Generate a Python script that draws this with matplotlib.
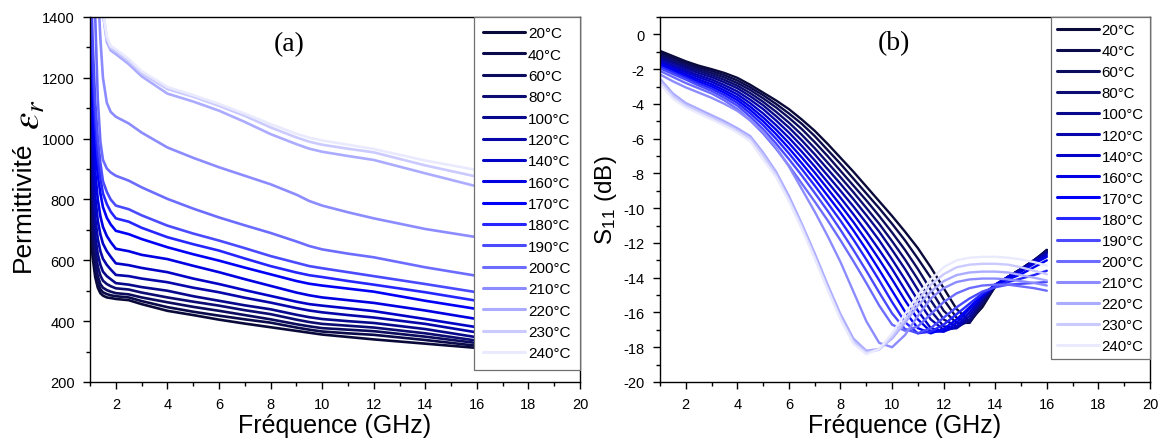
import matplotlib
matplotlib.use("Agg")
import matplotlib.pyplot as plt
from matplotlib.ticker import MultipleLocator

plt.rcParams['font.family'] = ['Liberation Sans', 'DejaVu Sans']
plt.rcParams['axes.unicode_minus'] = False
plt.rcParams['mathtext.fontset'] = 'stix'

temps = ['20°C', '40°C', '60°C', '80°C', '100°C', '120°C', '140°C', '160°C', '170°C',
         '180°C', '190°C', '200°C', '210°C', '220°C', '230°C', '240°C']
colors = ['#0a0a3a', '#0b0b4c', '#0c0c5e', '#0c0c72', '#08088c', '#0606aa', '#0303c8', '#0000e2',
          '#0000f8', '#2626ff', '#4a4aff', '#6c6cff', '#8c8cff', '#ababff', '#cacaff', '#eaeaff']

# ---- panel (a): permittivity ----
freq_a = [1.0, 1.1, 1.2, 1.3, 1.4, 1.5, 1.65, 1.8, 2.0, 2.5, 3.0, 4, 5, 6, 7, 8, 9, 9.5, 10, 11, 12, 14, 16]
eps_20 = [720, 610, 545, 510, 492, 484, 478, 476, 473, 469, 456, 434, 420, 405, 392, 380, 368, 362, 356, 348, 340, 326, 312]
eps_40 = [760, 640, 565, 525, 505, 495, 489, 485, 482, 478, 466, 446, 431, 418, 406, 395, 379, 372, 366, 360, 355, 338, 319]
eps_60 = [820, 680, 595, 548, 522, 510, 502, 497, 492, 488, 478, 462, 447, 434, 420, 406, 390, 383, 377, 372, 367, 349, 328]
eps_80 = [880, 730, 635, 580, 550, 533, 522, 515, 508, 504, 494, 478, 464, 451, 436, 423, 405, 397, 391, 385, 379, 360, 336]
eps_100 = [960, 790, 680, 620, 585, 563, 548, 538, 525, 520, 512, 500, 482, 467, 452, 439, 421, 413, 407, 400, 394, 374, 347]
eps_120 = [1060, 860, 740, 670, 630, 605, 585, 570, 552, 548, 540, 528, 510, 495, 477, 461, 443, 435, 429, 420, 412, 391, 363]
eps_140 = [1170, 950, 810, 730, 685, 655, 630, 612, 590, 584, 575, 561, 540, 522, 502, 483, 464, 456, 451, 442, 433, 407, 380]
eps_160 = [1300, 1050, 890, 800, 745, 710, 680, 660, 638, 630, 618, 604, 582, 561, 538, 516, 494, 485, 478, 469, 460, 435, 407]
eps_170 = [1420, 1150, 980, 880, 820, 775, 740, 718, 697, 686, 670, 643, 620, 599, 576, 554, 532, 523, 517, 507, 497, 467, 440]
eps_180 = [1520, 1230, 1050, 940, 870, 820, 785, 760, 738, 727, 707, 676, 653, 632, 606, 581, 560, 551, 545, 532, 520, 495, 467]
eps_190 = [1620, 1320, 1120, 1000, 920, 860, 825, 800, 780, 768, 748, 714, 688, 665, 640, 614, 592, 581, 574, 561, 548, 522, 495]
eps_200 = [1900, 1600, 1400, 1130, 990, 930, 902, 889, 878, 862, 840, 802, 770, 741, 715, 690, 662, 647, 636, 622, 610, 577, 549]
eps_210 = [2400, 2100, 1800, 1500, 1330, 1200, 1118, 1088, 1072, 1050, 1020, 971, 937, 906, 878, 850, 816, 795, 780, 758, 738, 703, 676]
eps_220 = [2800, 2500, 2200, 1900, 1650, 1410, 1318, 1290, 1278, 1245, 1205, 1148, 1122, 1092, 1055, 1015, 982, 967, 957, 943, 930, 886, 843]
eps_230 = [2800, 2500, 2200, 1900, 1650, 1415, 1328, 1298, 1288, 1255, 1215, 1163, 1138, 1108, 1075, 1037, 1004, 990, 980, 967, 955, 912, 875]
eps_240 = [2800, 2500, 2200, 1900, 1660, 1420, 1335, 1305, 1294, 1262, 1222, 1170, 1143, 1114, 1082, 1048, 1016, 1003, 994, 980, 966, 928, 897]
eps_all = [eps_20, eps_40, eps_60, eps_80, eps_100, eps_120, eps_140, eps_160, eps_170,
           eps_180, eps_190, eps_200, eps_210, eps_220, eps_230, eps_240]

# ---- panel (b): S11 ----
freq_b = [1, 1.5, 2, 2.5, 3, 3.5, 4, 4.5, 5, 5.5, 6, 6.5, 7, 7.5, 8, 8.5, 9, 9.5, 10,
          10.5, 11, 11.5, 12, 12.5, 13, 13.5, 14, 14.5, 15, 15.5, 16]
s11_20 = [-0.95, -1.25, -1.55, -1.8, -2.0, -2.22, -2.5, -2.9, -3.35, -3.8, -4.3, -4.9, -5.55, -6.3, -7.1, -7.9, -8.75, -9.6, -10.45, -11.35, -12.3, -13.4, -14.6, -15.8, -16.5, -15.7, -14.5, -14.0, -13.6, -13.1, -12.4]
s11_40 = [-1.05, -1.35, -1.65, -1.9, -2.1, -2.35, -2.65, -3.05, -3.5, -4.0, -4.55, -5.15, -5.85, -6.65, -7.45, -8.3, -9.15, -10.0, -10.9, -11.85, -12.9, -14.0, -15.25, -16.3, -16.6, -15.6, -14.5, -13.95, -13.5, -13.0, -12.4]
s11_60 = [-1.15, -1.45, -1.75, -2.0, -2.22, -2.48, -2.8, -3.2, -3.68, -4.2, -4.8, -5.45, -6.2, -7.0, -7.85, -8.7, -9.55, -10.45, -11.4, -12.4, -13.5, -14.7, -15.9, -16.6, -16.6, -15.5, -14.5, -13.95, -13.5, -13.0, -12.45]
s11_80 = [-1.25, -1.55, -1.85, -2.1, -2.34, -2.62, -2.95, -3.38, -3.88, -4.45, -5.08, -5.78, -6.55, -7.38, -8.22, -9.08, -9.98, -10.9, -11.9, -12.95, -14.1, -15.3, -16.4, -16.8, -16.5, -15.4, -14.45, -13.95, -13.5, -13.0, -12.5]
s11_100 = [-1.35, -1.65, -1.95, -2.22, -2.46, -2.76, -3.1, -3.56, -4.08, -4.7, -5.36, -6.1, -6.9, -7.75, -8.6, -9.48, -10.4, -11.35, -12.4, -13.5, -14.7, -15.9, -16.8, -16.9, -16.4, -15.3, -14.45, -13.95, -13.5, -13.0, -12.55]
s11_120 = [-1.45, -1.77, -2.07, -2.35, -2.6, -2.92, -3.28, -3.76, -4.3, -4.95, -5.65, -6.42, -7.25, -8.12, -9.0, -9.9, -10.85, -11.85, -12.95, -14.1, -15.3, -16.4, -17.0, -16.9, -16.2, -15.2, -14.4, -13.95, -13.55, -13.05, -12.6]
s11_140 = [-1.55, -1.88, -2.18, -2.47, -2.73, -3.07, -3.45, -3.96, -4.55, -5.22, -5.95, -6.75, -7.6, -8.5, -9.4, -10.35, -11.35, -12.4, -13.5, -14.7, -15.9, -16.9, -17.1, -16.8, -16.0, -15.1, -14.4, -13.95, -13.6, -13.1, -12.7]
s11_160 = [-1.65, -1.98, -2.3, -2.6, -2.87, -3.22, -3.62, -4.16, -4.78, -5.48, -6.25, -7.08, -7.95, -8.88, -9.82, -10.8, -11.85, -12.95, -14.1, -15.3, -16.4, -17.1, -17.1, -16.6, -15.8, -15.0, -14.4, -14.0, -13.65, -13.2, -12.8]
s11_170 = [-1.75, -2.08, -2.4, -2.72, -3.0, -3.36, -3.78, -4.35, -5.0, -5.74, -6.55, -7.42, -8.32, -9.28, -10.25, -11.28, -12.38, -13.55, -14.75, -15.95, -16.9, -17.2, -16.95, -16.4, -15.7, -15.0, -14.45, -14.1, -13.8, -13.4, -13.0]
s11_180 = [-1.85, -2.18, -2.5, -2.83, -3.12, -3.5, -3.94, -4.54, -5.22, -6.0, -6.85, -7.75, -8.7, -9.7, -10.72, -11.8, -12.95, -14.15, -15.4, -16.55, -17.2, -17.1, -16.7, -16.1, -15.5, -14.9, -14.5, -14.25, -14.05, -13.85, -13.6]
s11_190 = [-1.95, -2.28, -2.6, -2.94, -3.25, -3.65, -4.1, -4.74, -5.46, -6.28, -7.18, -8.12, -9.12, -10.15, -11.25, -12.4, -13.6, -14.85, -16.05, -16.95, -17.2, -16.9, -16.3, -15.7, -15.2, -14.8, -14.55, -14.4, -14.35, -14.3, -14.25]
s11_200 = [-2.1, -2.45, -2.8, -3.1, -3.4, -3.8, -4.3, -4.95, -5.7, -6.58, -7.55, -8.58, -9.62, -10.7, -11.85, -13.05, -14.3, -15.6, -16.7, -17.05, -16.8, -16.1, -15.4, -14.9, -14.6, -14.45, -14.4, -14.4, -14.5, -14.6, -14.75]
s11_210 = [-2.3, -2.7, -3.05, -3.35, -3.65, -4.0, -4.4, -4.95, -5.6, -6.5, -7.6, -8.9, -10.2, -11.6, -13.1, -14.8, -16.5, -17.75, -18.0, -17.3, -16.2, -15.2, -14.6, -14.25, -14.1, -14.05, -14.05, -14.1, -14.2, -14.3, -14.45]
s11_220 = [-2.55, -3.4, -3.95, -4.3, -4.65, -5.0, -5.4, -5.85, -6.8, -7.9, -9.3, -10.9, -12.6, -14.4, -16.1, -17.5, -18.2, -18.1, -17.5, -16.6, -15.6, -14.8, -14.2, -13.85, -13.7, -13.65, -13.65, -13.7, -13.85, -14.0, -14.16]
s11_230 = [-2.7, -3.55, -4.1, -4.45, -4.8, -5.15, -5.55, -6.0, -6.95, -8.05, -9.5, -11.05, -12.8, -14.6, -16.3, -17.7, -18.3, -18.15, -17.4, -16.4, -15.3, -14.4, -13.8, -13.4, -13.25, -13.2, -13.2, -13.25, -13.4, -13.6, -13.8]
s11_240 = [-2.85, -3.7, -4.2, -4.55, -4.9, -5.25, -5.65, -6.15, -7.2, -8.2, -9.6, -11.2, -12.9, -14.7, -16.4, -17.8, -18.4, -18.1, -17.2, -16.1, -15.0, -14.1, -13.4, -13.0, -12.85, -12.8, -12.8, -12.85, -12.95, -13.1, -13.3]
s11_all = [s11_20, s11_40, s11_60, s11_80, s11_100, s11_120, s11_140, s11_160, s11_170,
           s11_180, s11_190, s11_200, s11_210, s11_220, s11_230, s11_240]

fig = plt.figure(figsize=(11.65, 4.39), dpi=100)
ax1 = fig.add_axes([0.0773, 0.1276, 0.4206, 0.8314])
ax2 = fig.add_axes([0.5665, 0.1276, 0.4206, 0.8314])

for vals, c, t in zip(eps_all, colors, temps):
    ax1.plot(freq_a, vals, color=c, lw=1.9, label=t, solid_capstyle='round', solid_joinstyle='round')
for vals, c, t in zip(s11_all, colors, temps):
    ax2.plot(freq_b, vals, color=c, lw=1.7, label=t, solid_capstyle='round', solid_joinstyle='round')

ax1.set_xlim(1, 20)
ax1.set_ylim(200, 1400)
ax1.yaxis.set_major_locator(MultipleLocator(200))
ax1.yaxis.set_minor_locator(MultipleLocator(100))
ax2.set_xlim(1, 20)
ax2.set_ylim(-20, 1)
ax2.yaxis.set_major_locator(MultipleLocator(2))
ax2.yaxis.set_minor_locator(MultipleLocator(1))

leg_kw = [dict(fontsize=11, labelspacing=0.48, borderpad=0.62),
          dict(fontsize=10.8, labelspacing=0.47, borderpad=0.42)]
for ax, kw in zip((ax1, ax2), leg_kw):
    ax.xaxis.set_major_locator(MultipleLocator(2))
    ax.xaxis.set_minor_locator(MultipleLocator(1))
    ax.tick_params(which='major', direction='out', length=5, width=1, labelsize=10.5, pad=6)
    ax.tick_params(which='minor', direction='out', length=3, width=1)
    ax.tick_params(top=False, right=False)
    for sp in ax.spines.values():
        sp.set_linewidth(1)
    ax.set_xlabel('Fréquence (GHz)', fontsize=18, labelpad=1)
    leg = ax.legend(loc='upper right', borderaxespad=0, handlelength=2.75,
                    handletextpad=0.2, fancybox=False, framealpha=1, edgecolor='#707070', **kw)
    leg.get_frame().set_linewidth(0.9)
    for lh in leg.get_lines():
        lh.set_linewidth(2.2)

fig.text(0.020, 0.53, 'Permittivité', rotation=90, ha='center', va='center', fontsize=19)
fig.text(0.026, 0.738, r'$\varepsilon_r$', rotation=90, ha='center', va='center',
         fontsize=28)
ax2.set_ylabel(r'S$_{\mathregular{11}}$ (dB)', fontsize=17.5, labelpad=3)

ax1.text(0.406, 0.927, '(a)', transform=ax1.transAxes, ha='center', va='center',
         fontsize=20, family='Liberation Serif')
ax2.text(0.4765, 0.93, '(b)', transform=ax2.transAxes, ha='center', va='center',
         fontsize=20, family='Liberation Serif')

fig.savefig('out.png', dpi=100)
